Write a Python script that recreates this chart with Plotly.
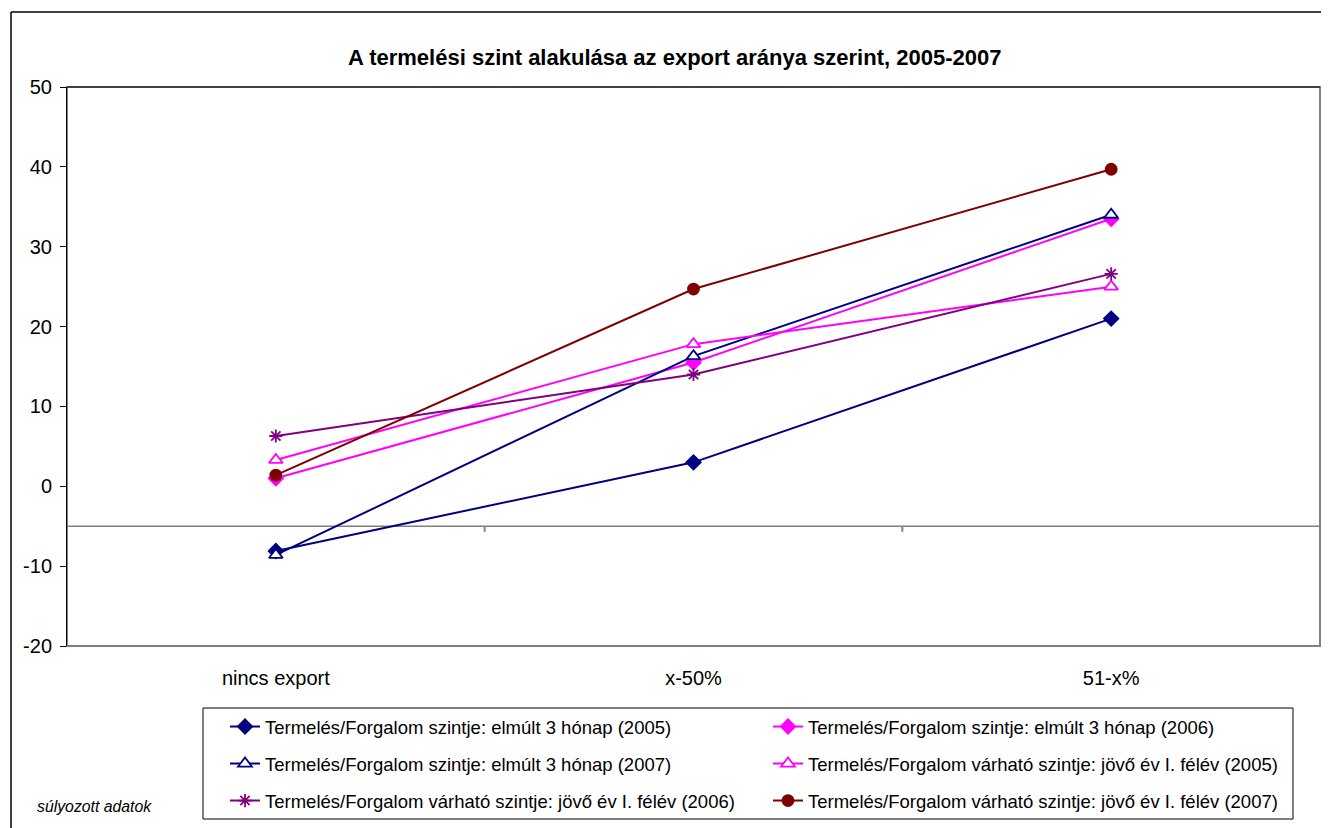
import plotly.graph_objects as go

categories = ["nincs export", "x-50%", "51-x%"]

s1_name = "Termelés/Forgalom szintje: elmúlt 3 hónap (2005)"
s1_vals = [-8.1, 3.0, 21.0]
s2_name = "Termelés/Forgalom szintje: elmúlt 3 hónap (2006)"
s2_vals = [1.0, 15.5, 33.5]
s3_name = "Termelés/Forgalom szintje: elmúlt 3 hónap (2007)"
s3_vals = [-8.6, 16.3, 34.0]
s4_name = "Termelés/Forgalom várható szintje: jövő év I. félév (2005)"
s4_vals = [3.3, 17.8, 25.0]
s5_name = "Termelés/Forgalom várható szintje: jövő év I. félév (2006)"
s5_vals = [6.3, 14.0, 26.6]
s6_name = "Termelés/Forgalom várható szintje: jövő év I. félév (2007)"
s6_vals = [1.4, 24.7, 39.7]

y_ticks = [-20, -10, 0, 10, 20, 30, 40, 50]
y_tick_text = ["-20", "-10", "0", "10", "20", "30", "40", "50"]
axis_cross = -5

# name, values, line colour, symbol, size, fill colour, legend group
series = [
    (s1_name, s1_vals, "#000080", "diamond", 11, "#000080", "legend"),
    (s2_name, s2_vals, "#FF00FF", "diamond", 11, "#FF00FF", "legend"),
    (s3_name, s3_vals, "#000080", "triangle-up", 12, "white", "legend2"),
    (s4_name, s4_vals, "#FF00FF", "triangle-up", 12, "white", "legend2"),
    (s5_name, s5_vals, "#800080", "asterisk-open", 11, "#800080", "legend3"),
    (s6_name, s6_vals, "#800000", "circle", 11, "#800000", "legend3"),
]

fig = go.Figure()
for name, vals, color, sym, size, fill, lg in series:
    fig.add_trace(go.Scatter(
        x=categories, y=vals, name=name, mode="lines+markers",
        line=dict(color=color, width=2),
        marker=dict(symbol=sym, size=size, color=fill,
                    line=dict(color=color, width=1.8)),
        legend=lg,
    ))

# page body has an 8px margin; work in reference pixel coordinates
OFF = 8
W, H = 1329 - OFF, 828 - OFF
L, R, T, B = 67, 1320, 87, 646
pw, ph = R - L, B - T


def px(xp):
    return (xp - L) / pw


def py(yp):
    return (B - yp) / ph


font_family = "Liberation Sans, Arial, sans-serif"

legend_common = dict(
    orientation="h", xanchor="left", yanchor="middle",
    bgcolor="rgba(0,0,0,0)", borderwidth=0,
    font=dict(family=font_family, size=18.5, color="#000"),
    entrywidth=498, entrywidthmode="pixels",
    x=px(225),
)

fig.update_layout(
    width=W, height=H,
    margin=dict(l=L - OFF, r=W - (R - OFF), t=T - OFF, b=H - (B - OFF), autoexpand=False),
    paper_bgcolor="white", plot_bgcolor="white",
    showlegend=True,
    legend=dict(legend_common, y=py(727)),
    legend2=dict(legend_common, y=py(764)),
    legend3=dict(legend_common, y=py(801)),
    font=dict(family=font_family, color="#000"),
    xaxis=dict(
        type="category", range=[-0.5, 2.5], showgrid=False, zeroline=False,
        showline=False, ticks="", ticklabelstandoff=18,
        tickfont=dict(family=font_family, size=20, color="#000"),
    ),
    yaxis=dict(
        range=[-20, 50], tickvals=y_ticks, ticktext=y_tick_text,
        showgrid=False, zeroline=False,
        showline=True, linecolor="#000", linewidth=1,
        ticks="outside", ticklen=6, tickcolor="#000", ticklabelstandoff=4,
        tickfont=dict(family=font_family, size=20, color="#000"),
    ),
)

shapes = []
shapes.append(dict(type="rect", xref="paper", yref="paper", x0=0, x1=1, y0=0, y1=1,
                   line=dict(color="#808080", width=2), layer="below"))
shapes.append(dict(type="line", xref="paper", yref="paper", x0=0, x1=1, y0=1, y1=1,
                   line=dict(color="#000", width=1)))
shapes.append(dict(type="line", xref="paper", yref="y", x0=0, x1=1,
                   y0=axis_cross, y1=axis_cross, line=dict(color="#808080", width=1.5),
                   layer="below"))
for i in range(len(categories) - 1):
    shapes.append(dict(type="line", xref="x", yref="y", x0=i + 0.5, x1=i + 0.5,
                       y0=axis_cross, y1=axis_cross - 0.7,
                       line=dict(color="#808080", width=2)))
shapes.append(dict(type="rect", xref="paper", yref="paper",
                   x0=px(203), x1=px(1293), y0=py(819), y1=py(708),
                   line=dict(color="#000", width=1)))
shapes.append(dict(type="line", xref="paper", yref="paper", x0=px(11), x1=px(11),
                   y0=py(12), y1=py(840), line=dict(color="#000", width=1.5)))
shapes.append(dict(type="line", xref="paper", yref="paper", x0=px(11), x1=px(1323),
                   y0=py(12), y1=py(12), line=dict(color="#000", width=1.5)))
fig.update_layout(shapes=shapes)

fig.add_annotation(
    text="<b>A termelési szint alakulása az export aránya szerint, 2005-2007</b>",
    xref="paper", yref="paper", x=px(674), y=py(57), showarrow=False,
    xanchor="center", yanchor="middle",
    font=dict(family=font_family, size=22, color="#000"),
)
fig.add_annotation(
    text="<i>súlyozott adatok</i>", xref="paper", yref="paper",
    x=px(35), y=py(806), showarrow=False, xanchor="left", yanchor="middle",
    font=dict(family=font_family, size=15.8, color="#000"),
)

fig.write_html("out.html")
